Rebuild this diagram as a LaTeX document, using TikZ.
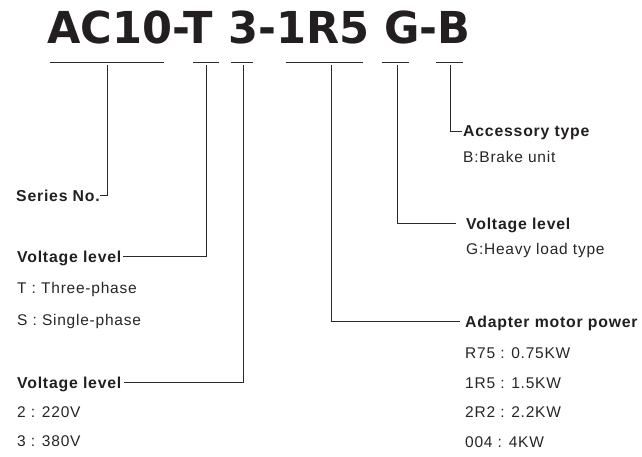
\documentclass[tikz,border=0pt]{standalone}
\usepackage{fontspec,graphicx}
\usetikzlibrary{positioning}
\newfontfamily\titlefont{DejaVu Sans}
\newfontfamily\labelfont{Liberation Sans}[LetterSpace=5]
\definecolor{ink}{HTML}{231F20}
\definecolor{wire}{HTML}{2B2B2B}

\begin{document}
\begin{tikzpicture}[x=1pt, y=-1pt,
    head/.style = {inner sep=0pt, anchor=base west, text height=12pt, text depth=0pt,
      text=ink, font=\labelfont\bfseries\fontsize{15.8}{18}\selectfont},
    item/.style = {inner sep=0pt, anchor=base west,
      text=black!85, font=\labelfont\fontsize{15.5}{18}\selectfont},
    wire/.style = {draw=wire, line width=0.9pt}]
  \useasboundingbox (0,0) rectangle (642,457);

  % type code
  \node[inner sep=0pt, anchor=base west, text=ink,
    font=\titlefont\bfseries\fontsize{44}{50}\selectfont] (code) at (47,44)
    {\scalebox{0.98}[1]{AC10-T 3-1R5 G-B}};

  % underlines and drop points
  \foreach \a/\b/\m/\n in {50/164/107/ser, 193/219/206/ph, 231/253/243/vo,
      286/363/331/pw, 382/409/397/ld, 436/463/450/acc}{
    \draw[wire, line width=0.8pt] (\a,62) -- (\b,62);
    \coordinate (drop-\n) at (\m,65.5);
  }

  % left side
  \node[head] (ser) at (16,201.5) {Series No.};
  \node[head] (ph) at (17,262) {Voltage level};
  \node[item] (ph-1) at (17,293) {T : Three-phase};
  \node[item] (ph-2) at (17,325) {S : Single-phase};
  \node[head] (vo) at (17,388) {Voltage level};
  \node[item] (vo-1) at (17,417) {2 : 220V};
  \node[item] (vo-2) at (17,446) {3 : 380V};

  % right side
  \node[head] (acc) at (463,137) {Accessory type};
  \node[item] (acc-1) at (463,163) {B:Brake unit};
  \node[head] (ld) at (466,229) {Voltage level};
  \node[item] (ld-1) at (466,254) {G:Heavy load type};
  \node[head] (pw) at (465,327) {Adapter motor power};
  \node[item] (pw-1) at (465,358) {R75 : 0.75KW};
  \node[item] (pw-2) at (465,388) {1R5 : 1.5KW};
  \node[item] (pw-3) at (465,417) {2R2 : 2.2KW};
  \node[item] (pw-4) at (465,447) {004 : 4KW};

  \draw[wire] (drop-ser) |- (ser.east);
  \draw[wire] (drop-ph) |- ([xshift=1pt]ph.east);
  \draw[wire] (drop-vo) |- ([xshift=2pt]vo.east);
  \draw[wire] (drop-acc) |- ([xshift=-1pt]acc.west);
  \draw[wire] (drop-ld) |- ([xshift=-10pt]ld.west);
  \draw[wire] (drop-pw) |- ([xshift=-5pt]pw.west);
\end{tikzpicture}
\end{document}
